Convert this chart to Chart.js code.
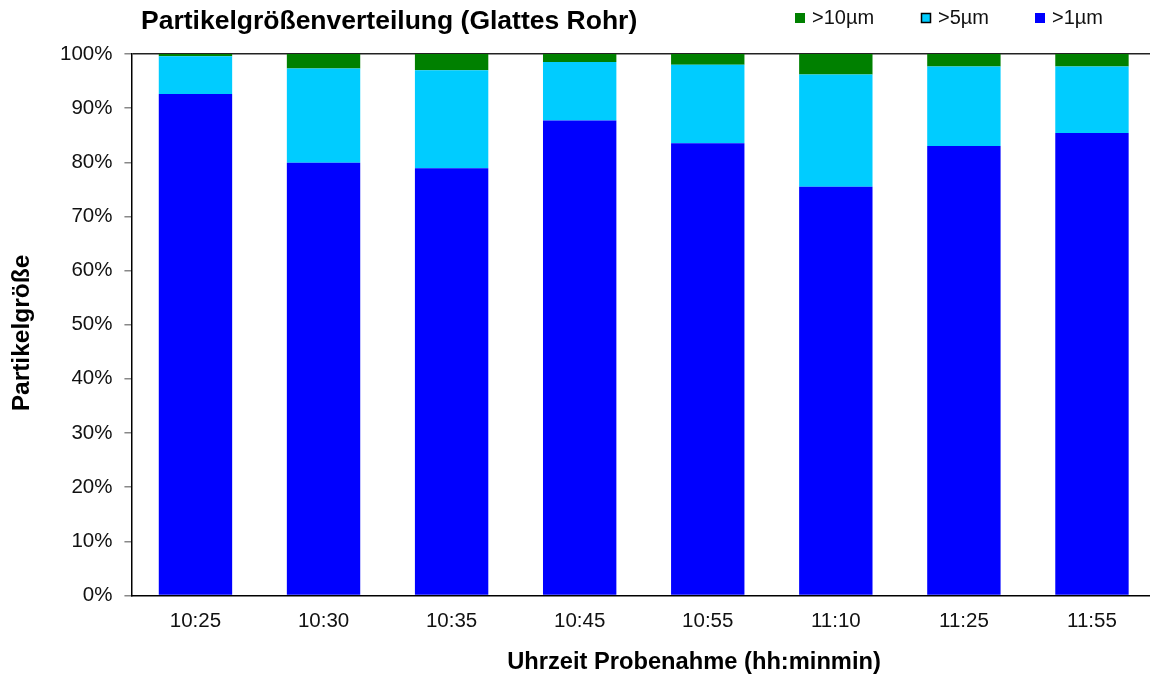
<!DOCTYPE html>
<html>
<head>
<meta charset="utf-8">
<script src="https://cdn.jsdelivr.net/npm/chart.js@4"></script>
<style>
  html, body { margin: 0; padding: 0; background: #fff; overflow: hidden; }
  canvas { display: block; }
</style>
</head>
<body>
<canvas id="pgv" width="1156" height="682" style="width:1156px;height:682px"></canvas>
<script>
  // Daten (Anteile in %)
  var zeiten = ["10:25", "10:30", "10:35", "10:45", "10:55", "11:10", "11:25", "11:55"];
  var ueber1 = [92.6, 79.9, 78.9, 87.7, 83.5, 75.5, 83.0, 85.4];
  var ueber5 = [7.0, 17.4, 18.1, 10.8, 14.5, 20.7, 14.7, 12.3];
  var ueber10 = [0.4, 2.7, 3.0, 1.5, 2.0, 3.8, 2.3, 2.3];
  var yTicks = [0, 10, 20, 30, 40, 50, 60, 70, 80, 90, 100];

  var FONT = "'Liberation Sans', Arial, sans-serif";

  // Titel, Achsentitel und Legende selbst zeichnen (Position wie im Original)
  var deko = {
    id: "deko",
    afterDraw: function (c) {
      var ctx = c.ctx;
      ctx.save();
      ctx.fillStyle = "#000";
      ctx.textBaseline = "middle";
      ctx.font = "bold 26.5px " + FONT;
      ctx.textAlign = "left";
      ctx.fillText("Partikelgrößenverteilung (Glattes Rohr)", 141, 22);
      ctx.font = "bold 23.7px " + FONT;
      ctx.textAlign = "center";
      ctx.fillText("Uhrzeit Probenahme (hh:minmin)", 694, 662);
      ctx.save();
      ctx.translate(22, 333);
      ctx.rotate(-Math.PI / 2);
      ctx.font = "bold 24.5px " + FONT;
      ctx.fillText("Partikelgröße", 0, 0);
      ctx.restore();

      var items = [
        { t: ">10µm", c: "#008000", x: 795, b: false },
        { t: ">5µm", c: "#00CCFF", x: 921, b: true },
        { t: ">1µm", c: "#0000FF", x: 1035, b: false }
      ];
      ctx.font = "20px " + FONT;
      ctx.textAlign = "left";
      items.forEach(function (it) {
        ctx.fillStyle = it.c;
        ctx.fillRect(it.x, 13, 10, 10);
        if (it.b) { ctx.strokeStyle = "#000"; ctx.lineWidth = 1.5; ctx.strokeRect(it.x + 0.5, 13.5, 9, 9); }
        ctx.fillStyle = "#111";
        ctx.fillText(it.t, it.x + 17, 18);
      });
      ctx.restore();
    }
  };

  new Chart(document.getElementById("pgv"), {
    type: "bar",
    data: {
      labels: zeiten,
      datasets: [
        { label: ">1µm", data: ueber1, backgroundColor: "#0000FF" },
        { label: ">5µm", data: ueber5, backgroundColor: "#00CCFF" },
        { label: ">10µm", data: ueber10, backgroundColor: "#008000" }
      ]
    },
    options: {
      responsive: false, animation: false,
      layout: { padding: { top: 54, left: 48, right: 0, bottom: 34 } },
      datasets: { bar: { categoryPercentage: 1, barPercentage: 0.573 } },
      plugins: { legend: { display: false }, title: { display: false }, tooltip: { enabled: false } },
      scales: {
        x: {
          stacked: true,
          grid: { display: false, drawTicks: false },
          border: { color: "#000", width: 1.5 },
          ticks: { color: "#111", font: { family: FONT, size: 20.5 }, padding: 14 }
        },
        y: {
          stacked: true, min: 0, max: 100,
          afterBuildTicks: function (s) { s.ticks = yTicks.map(function (v) { return { value: v }; }); },
          grid: {
            color: function (ctx) { return ctx.tick && ctx.tick.value === 100 ? "#222" : "rgba(0,0,0,0)"; },
            lineWidth: 1.5, tickColor: "#888", tickLength: 7
          },
          border: { color: "#000", width: 1.5 },
          ticks: { color: "#111", font: { family: FONT, size: 20.5 }, padding: 12,
            callback: function (v) { return v + "%"; } }
        }
      }
    },
    plugins: [deko]
  });
</script>
</body>
</html>
